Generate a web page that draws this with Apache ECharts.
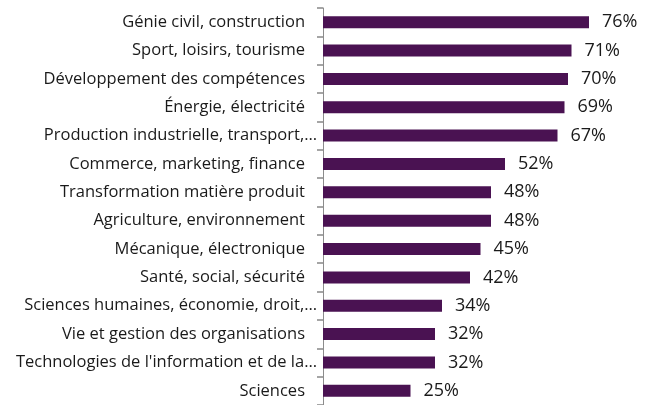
<!DOCTYPE html>
<html>
<head>
<meta charset="utf-8">
<script src="https://cdn.jsdelivr.net/npm/echarts@6/dist/echarts.min.js"></script>
<style>
  html, body { margin: 0; padding: 0; background: #fff; }
  #chart { width: 652px; height: 405px; }
</style>
</head>
<body>
<div id="chart"></div>
<script>
// données
var categories = [
  'Génie civil, construction',
  'Sport, loisirs, tourisme',
  'Développement des compétences',
  'Énergie, électricité',
  'Production industrielle, transport,…',
  'Commerce, marketing, finance',
  'Transformation matière produit',
  'Agriculture, environnement',
  'Mécanique, électronique',
  'Santé, social, sécurité',
  'Sciences humaines, économie, droit,…',
  'Vie et gestion des organisations',
  'Technologies de l\'information et de la…',
  'Sciences'
];
var values = [76, 71, 70, 69, 67, 52, 48, 48, 45, 42, 34, 32, 32, 25];

var chart = echarts.init(document.getElementById('chart'));
var option = {
  animation: false,
  grid: {
    left: 323,
    top: 8,
    right: 0,
    bottom: -2
  },
  xAxis: {
    type: 'value',
    min: 0,
    max: 94,
    show: false
  },
  yAxis: {
    type: 'category',
    inverse: true,
    data: categories,
    axisLine: { show: true, lineStyle: { color: '#8c8c8c', width: 1 } },
    axisTick: { show: true, interval: 0, length: 6, lineStyle: { color: '#888888', width: 1.5 } },
    axisLabel: {
      margin: 6,
      interval: 0,
      fontFamily: 'Open Sans',
      fontSize: 16.5,
      color: '#1a1a1a',
      formatter: function (v) {
        // les libellés tronqués vont plus près de l'axe
        return v.slice(-1) === '…' ? '{a|' + v + '}' : '{b|' + v + '}';
      },
      rich: {
        a: { fontFamily: 'Open Sans', fontSize: 16.5, color: '#1a1a1a' },
        b: { fontFamily: 'Open Sans', fontSize: 16.5, color: '#1a1a1a', padding: [0, 12, 0, 0] }
      }
    }
  },
  series: [
    {
      type: 'bar',
      data: values,
      barWidth: 12,
      itemStyle: { color: '#4a1252' },
      label: {
        show: true,
        position: 'right',
        distance: 13,
        fontFamily: 'Open Sans',
        fontSize: 18,
        color: '#1a1a1a',
        formatter: '{c}%'
      }
    }
  ]
};
chart.setOption(option);
</script>
</body>
</html>
